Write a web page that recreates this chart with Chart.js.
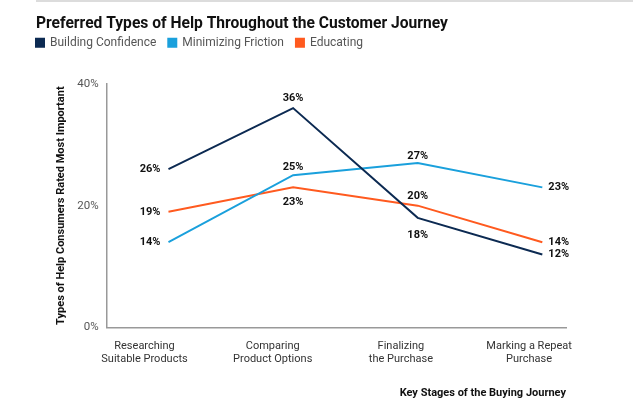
<!DOCTYPE html>
<html>
<head>
<meta charset="utf-8">
<style>
  html, body { margin: 0; padding: 0; background: #fff; }
  #wrap { width: 633px; height: 412px; }
</style>
</head>
<body>
<div id="wrap"><canvas id="myChart"></canvas></div>
<script src="https://cdn.jsdelivr.net/npm/chart.js"></script>
<script>
  const stages = [
    ["Researching", "Suitable Products"],
    ["Comparing", "Product Options"],
    ["Finalizing", "the Purchase"],
    ["Marking a Repeat", "Purchase"],
  ];
  const buildingConfidence = [26, 36, 18, 12];
  const minimizingFriction = [14, 25, 27, 23];
  const educating = [19, 23, 20, 14];
  const yTicks = [0, 20, 40];

  // where each value label sits relative to its point: [dx, dy, align]
  const labelSpots = [
    [[-8, 0, "right"], [0, -10, "center"], [0, 17, "center"], [6, 0, "left"]],
    [[-8, 0, "right"], [0, -8, "center"], [0, -7, "center"], [6, 0, "left"]],
    [[-8, 0, "right"], [0, 15, "center"], [0, -9, "center"], [6, 0, "left"]],
  ];

  const ctx = document.getElementById("myChart");
  const font = "Roboto, 'Liberation Sans', sans-serif";

  const extras = {
    id: "extras",
    beforeInit: (chart) => {
      // extra gap under the legend
      const fit = chart.legend.fit;
      chart.legend.fit = function () {
        fit.call(this);
        this.height += 25;
      };
    },
    afterLayout: (chart) => {
      // legend starts flush with the title
      chart.legend.left -= 12;
    },
    beforeDraw: (chart) => {
      const { ctx } = chart;
      ctx.save();
      ctx.strokeStyle = "#dcdcdc";
      ctx.lineWidth = 2;
      ctx.beginPath();
      ctx.moveTo(36, 1);
      ctx.lineTo(chart.width, 1);
      ctx.stroke();
      ctx.restore();
    },
    afterDatasetsDraw: (chart) => {
      const { ctx } = chart;
      ctx.save();
      ctx.font = "bold 11px " + font;
      ctx.fillStyle = "#111";
      ctx.textBaseline = "middle";
      chart.data.datasets.forEach((ds, i) => {
        chart.getDatasetMeta(i).data.forEach((pt, j) => {
          const [dx, dy, align] = labelSpots[i][j];
          ctx.textAlign = align;
          ctx.fillText(ds.data[j].y + "%", pt.x + dx, pt.y + dy);
        });
      });
      ctx.restore();
    },
  };

  new Chart(ctx, {
    type: "line",
    data: {
      datasets: [
        {
          label: "Building Confidence",
          data: buildingConfidence.map((v, i) => ({ x: i, y: v })),
          borderColor: "#0c2a52",
          backgroundColor: "#0c2a52",
        },
        {
          label: "Minimizing Friction",
          data: minimizingFriction.map((v, i) => ({ x: i, y: v })),
          borderColor: "#1aa0dc",
          backgroundColor: "#1aa0dc",
        },
        {
          label: "Educating",
          data: educating.map((v, i) => ({ x: i, y: v })),
          borderColor: "#ff5a1f",
          backgroundColor: "#ff5a1f",
        },
      ],
    },
    options: {
      responsive: true,
      maintainAspectRatio: false,
      animation: false,
      layout: { padding: { left: 36, right: 67, top: 11, bottom: 12 } },
      elements: {
        line: { borderWidth: 2, tension: 0 },
        point: { radius: 0 },
      },
      plugins: {
        title: {
          display: true,
          text: "Preferred Types of Help Throughout the Customer Journey",
          align: "start",
          color: "#111",
          font: { family: font, size: 15.6, weight: "bold" },
          padding: { top: 4, bottom: -9 },
        },
        legend: {
          align: "start",
          labels: {
            boxWidth: 8,
            boxHeight: 8,
            color: "#555",
            font: { family: font, size: 12 },
            padding: 12,
          },
        },
        tooltip: { enabled: false },
      },
      scales: {
        x: {
          type: "linear",
          display: false,
          min: -0.497,
          max: 3.19,
        },
        x2: {
          type: "linear",
          position: "bottom",
          min: -0.296,
          max: 3.288,
          afterBuildTicks: (scale) => {
            scale.ticks = stages.map((s, i) => ({ value: i }));
          },
          grid: { display: false, drawTicks: false },
          border: { display: true, color: "#999", width: 1.5 },
          ticks: {
            color: "#333",
            font: { family: font, size: 11, lineHeight: 1.1 },
            padding: 13,
            maxRotation: 0,
            autoSkip: false,
            callback: (v) => stages[v],
          },
          title: {
            display: true,
            text: "Key Stages of the Buying Journey",
            align: "end",
            color: "#111",
            font: { family: font, size: 11, weight: "bold" },
            padding: { top: 9, bottom: 0 },
          },
        },
        y: {
          min: 0,
          max: 40,
          afterBuildTicks: (scale) => {
            scale.ticks = yTicks.map((v) => ({ value: v }));
          },
          grid: { display: false, drawTicks: false },
          border: { display: true, color: "#999", width: 1.5 },
          ticks: {
            color: "#555",
            font: { family: font, size: 11.5 },
            padding: 8,
            callback: (v) => v + "%",
          },
          title: {
            display: true,
            text: "Types of Help Consumers Rated Most Important",
            color: "#111",
            font: { family: font, size: 11, weight: "bold" },
            padding: { top: 19, bottom: 1 },
          },
        },
      },
    },
    plugins: [extras],
  });
</script>
</body>
</html>
